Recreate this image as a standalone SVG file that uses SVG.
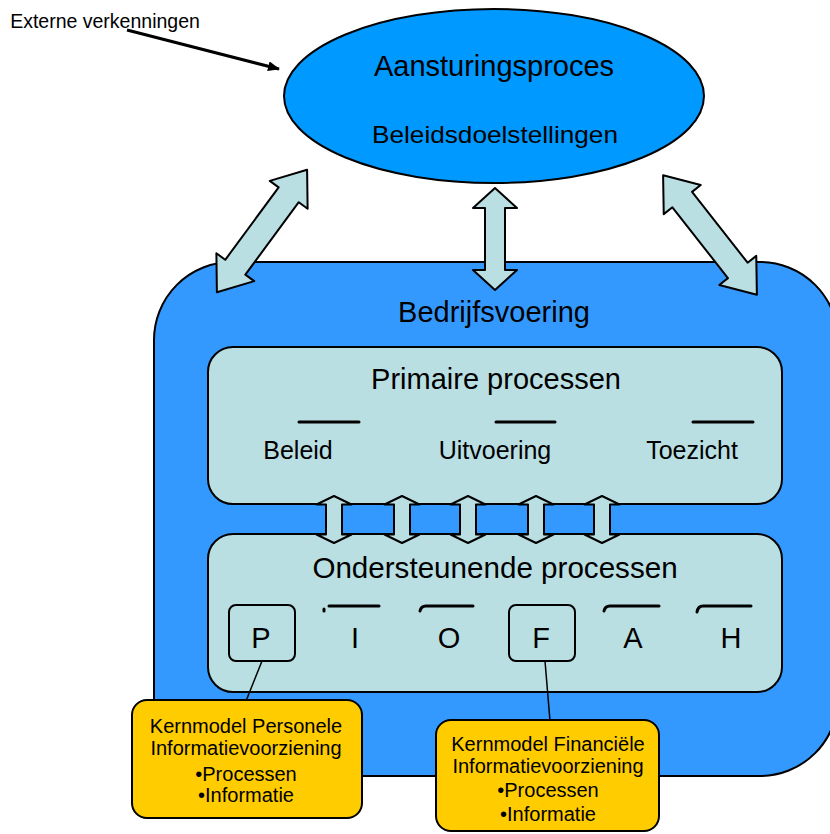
<svg xmlns="http://www.w3.org/2000/svg" width="830" height="834" viewBox="0 0 830 834">
  <style>
    text { font-family: "Liberation Sans", Arial, sans-serif; fill: #000; text-anchor: middle; }
    .outline { stroke: #000; stroke-width: 2; stroke-linejoin: round; }
    .pale { fill: #B9DFE3; }
    .gold { fill: #FFCC00; }
    .rule { fill: none; stroke: #000; stroke-width: 3; stroke-linecap: round; }
    .link { fill: none; stroke: #000; stroke-width: 1.5; }
    .big { font-size: 29px; }
    .mid { font-size: 25px; }
    .small { font-size: 20px; }
  </style>
  <defs>
    <!-- wide double-headed arrow, centred on the origin along x -->
    <path id="dbl-long" d="M -76 0 L -45 -23.5 L -45 -12.5 L 45 -12.5 L 45 -23.5 L 76 0 L 45 23.5 L 45 12.5 L -45 12.5 L -45 23.5 Z"/>
    <!-- short vertical double arrow joining the two process boxes -->
    <path id="dbl-short" d="M 0 -23.5 L 17.5 -15 L 8 -15 L 8 15 L 17.5 15 L 0 23.5 L -17.5 15 L -8 15 L -8 -15 L -17.5 -15 Z"/>
    <marker id="head" viewBox="0 0 12 10" refX="11" refY="5" markerWidth="12" markerHeight="10" markerUnits="userSpaceOnUse" orient="auto">
      <path d="M 0 0 L 12 5 L 0 10 Z" fill="#000"/>
    </marker>
  </defs>

  <!-- Bedrijfsvoering container -->
  <g id="bedrijfsvoering">
    <rect x="154" y="262" width="684" height="514" rx="78" ry="78" fill="#3399FF" class="outline"/>
    <text class="big" x="494" y="322">Bedrijfsvoering</text>
  </g>

  <!-- Primary processes -->
  <g id="primaire-processen">
    <rect x="208" y="347" width="574" height="157" rx="25" ry="25" class="pale outline"/>
    <text class="big" x="496" y="389">Primaire processen</text>
    <line class="rule" x1="299" y1="422" x2="359" y2="422"/>
    <line class="rule" x1="496" y1="422" x2="555" y2="422"/>
    <line class="rule" x1="693" y1="422" x2="753" y2="422"/>
    <text class="mid" x="298" y="459">Beleid</text>
    <text class="mid" x="495" y="459">Uitvoering</text>
    <text class="mid" x="692" y="459">Toezicht</text>
  </g>

  <!-- Supporting processes -->
  <g id="ondersteunende-processen">
    <rect x="208" y="534" width="574" height="158" rx="25" ry="25" class="pale outline"/>
    <text x="495" y="578" font-size="29.6">Ondersteunende processen</text>
    <g id="letter-p">
      <rect x="229" y="605" width="66" height="56" rx="7" ry="7" class="pale outline"/>
      <text class="big" x="261" y="648">P</text>
    </g>
    <g id="letter-i">
      <path class="rule" d="M 324 611 L 324 609 M 329 606 L 379 606"/>
      <text class="big" x="355" y="648">I</text>
    </g>
    <g id="letter-o">
      <path class="rule" d="M 420 611 Q 421 606 426 606 L 473 606"/>
      <text class="big" x="449" y="648">O</text>
    </g>
    <g id="letter-f">
      <rect x="509" y="605" width="66" height="56" rx="7" ry="7" class="pale outline"/>
      <text class="big" x="541" y="648">F</text>
    </g>
    <g id="letter-a">
      <path class="rule" d="M 604 611 Q 605 606 610 606 L 659 606"/>
      <text class="big" x="633" y="648">A</text>
    </g>
    <g id="letter-h">
      <path class="rule" d="M 697 612 Q 698 606 703 606 L 751 606"/>
      <text class="big" x="731" y="648">H</text>
    </g>
  </g>

  <!-- Connectors -->
  <g id="connectors">
    <g class="pale outline">
      <use href="#dbl-short" transform="translate(334 519.5)"/>
      <use href="#dbl-short" transform="translate(402 519.5)"/>
      <use href="#dbl-short" transform="translate(468 519.5)"/>
      <use href="#dbl-short" transform="translate(536 519.5)"/>
      <use href="#dbl-short" transform="translate(602 519.5)"/>
      <use href="#dbl-long" transform="translate(262 231) rotate(-53.6)"/>
      <path d="M 495 188 L 517 208 L 505 208 L 505 270 L 517 270 L 495 290 L 473 270 L 485 270 L 485 208 L 473 208 Z"/>
      <use href="#dbl-long" transform="translate(710 235) rotate(51.9)"/>
    </g>
    <line class="link" x1="262" y1="661" x2="246" y2="701"/>
    <line class="link" x1="545" y1="661" x2="550" y2="721"/>
    <line x1="127" y1="30" x2="279" y2="69" stroke="#000" stroke-width="3" marker-end="url(#head)"/>
  </g>

  <!-- Steering process -->
  <g id="aansturingsproces">
    <ellipse cx="494" cy="96" rx="210" ry="87" fill="#0099FF" class="outline"/>
    <text class="big" x="494" y="76">Aansturingsproces</text>
    <text x="495" y="143" font-size="24" textLength="246" lengthAdjust="spacingAndGlyphs">Beleidsdoelstellingen</text>
  </g>

  <!-- External input -->
  <g id="externe-verkenningen">
    <text x="105" y="28" font-size="19.5">Externe verkenningen</text>
  </g>

  <!-- Core model boxes -->
  <g id="kernmodel-personele">
    <rect x="132" y="700" width="230" height="118" rx="15" ry="15" class="gold outline"/>
    <text class="small" x="246" y="733">Kernmodel Personele</text>
    <text class="small" x="246" y="755">Informatievoorziening</text>
    <text class="small" x="246" y="781">•Processen</text>
    <text class="small" x="246" y="802">•Informatie</text>
  </g>
  <g id="kernmodel-financiele">
    <rect x="436" y="720" width="223" height="111" rx="15" ry="15" class="gold outline"/>
    <text class="small" x="548" y="751">Kernmodel Financiële</text>
    <text class="small" x="548" y="773">Informatievoorziening</text>
    <text class="small" x="548" y="797">•Processen</text>
    <text class="small" x="548" y="821">•Informatie</text>
  </g>
</svg>
